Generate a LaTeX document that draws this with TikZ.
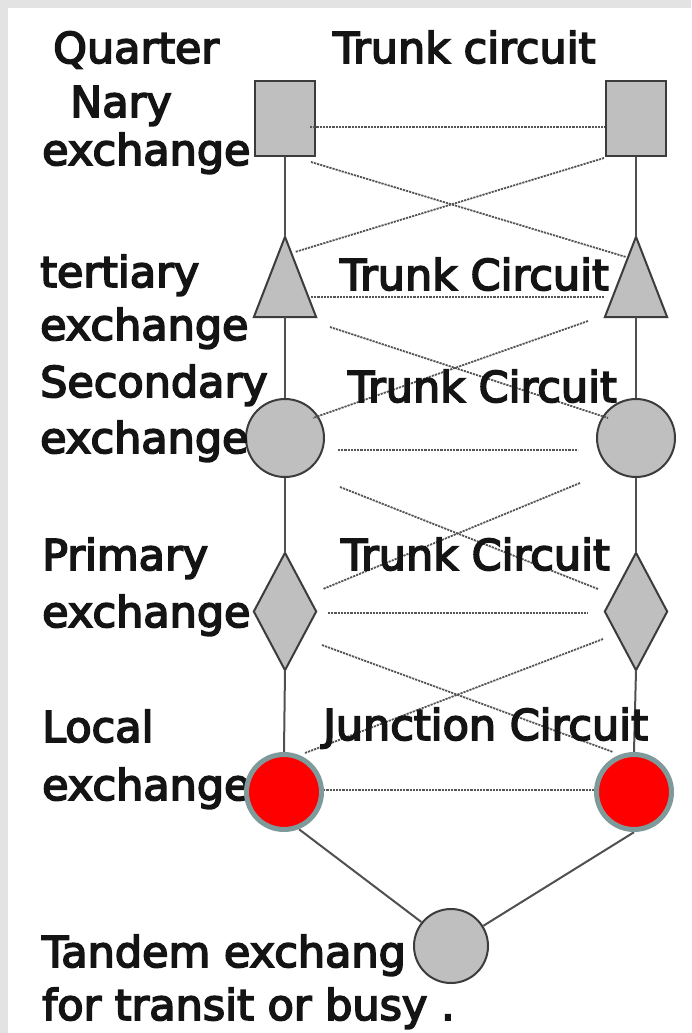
\documentclass[tikz,border=0pt]{standalone}
\usepackage{fontspec}
\setmainfont{DejaVu Sans}
\newfontfamily\lblfont{DejaVu Sans}[FakeStretch=1.01, BoldFont=DejaVu Sans, BoldFeatures={FakeBold=4}]
\usetikzlibrary{shapes.geometric}
\definecolor{shapefill}{HTML}{BFBFBF}
\definecolor{shapeline}{HTML}{3C3C3C}
\definecolor{wireline}{HTML}{505050}
\definecolor{dotline}{HTML}{555555}
\definecolor{ringline}{HTML}{7F9A9A}
\definecolor{outerbg}{HTML}{E3E3E3}
\tikzset{
  box/.style={draw=shapeline, fill=shapefill, line width=2pt, minimum width=60pt, minimum height=75pt, inner sep=0pt},
  frame/.style={minimum width=62pt, inner sep=0pt},
  shp/.style={draw=shapeline, fill=shapefill, line width=2pt, line join=miter},
  gcirc/.style={circle, draw=shapeline, fill=shapefill, line width=2pt, minimum size=78pt, inner sep=0pt},
  wire/.style={draw=wireline, line width=2pt},
  dotw/.style={draw=dotline, line width=1.8pt, dash pattern=on 2.2pt off 1pt},
  lbl/.style={anchor=base west, inner sep=0pt, font=\lblfont\bfseries\fontsize{42.5pt}{50pt}\selectfont, text=black!92}
}
\begin{document}
\begin{tikzpicture}[x=1pt,y=-1pt]
\useasboundingbox (0,0) rectangle (691,1033);
\fill[outerbg] (0,0) rectangle (691,1033);
\fill[white] (8,8) rectangle (691,1033);

% shapes
\node[box] (sqL) at (285,118.5) {};
\node[box] (sqR) at (636,118.5) {};
\node[frame, minimum height=80pt] (triL) at (285,277) {};
\node[frame, minimum height=80pt] (triR) at (636,277) {};
\draw[shp] (triL.north) -- (triL.south east) -- (triL.south west) -- cycle;
\draw[shp] (triR.north) -- (triR.south east) -- (triR.south west) -- cycle;
\node[gcirc] (secL) at (285,438) {};
\node[gcirc] (secR) at (636,438) {};
\node[frame, minimum height=117pt] (priL) at (285,611.5) {};
\node[frame, minimum height=117pt] (priR) at (636,611.5) {};
\draw[shp] (priL.north) -- (priL.east) -- (priL.south) -- (priL.west) -- cycle;
\draw[shp] (priR.north) -- (priR.east) -- (priR.south) -- (priR.west) -- cycle;
\node[circle, minimum size=80pt, inner sep=0pt] (locL) at (284,792) {};
\node[circle, minimum size=80pt, inner sep=0pt] (locR) at (634,792) {};
\node[circle, minimum size=76pt, inner sep=0pt] (tan) at (451,946) {};

% vertical wires
\draw[wire] (sqL.south) -- (triL.north);
\draw[wire] (triL.south) -- (secL.north);
\draw[wire] (secL.south) -- (priL.north);
\draw[wire] (priL.south) -- (locL.north);
\draw[wire] (sqR.south) -- (triR.north);
\draw[wire] (triR.south) -- (secR.north);
\draw[wire] (secR.south) -- (priR.north);
\draw[wire] (priR.south) -- (locR.north);
\draw[wire] (locL.-68) -- (tan.141);
\draw[wire] (locR.-90) -- (tan.32);

% dotted trunk circuits
\coordinate (a1) at (310,127);   \coordinate (b1) at (605,127);
\coordinate (a2) at (311,162);   \coordinate (b2) at (626,257);
\coordinate (a3) at (604,158);   \coordinate (b3) at (295,252);
\coordinate (a4) at (311,297);   \coordinate (b4) at (605,297);
\coordinate (a5) at (330,327);   \coordinate (b5) at (608,418);
\coordinate (a6) at (588,321);   \coordinate (b6) at (313,418);
\coordinate (a7) at (338,450);   \coordinate (b7) at (578,450);
\coordinate (a8) at (340,487);   \coordinate (b8) at (598,589);
\coordinate (a9) at (580,483);   \coordinate (b9) at (323,589);
\coordinate (a10) at (328,613);  \coordinate (b10) at (588,613);
\coordinate (a11) at (322,645);  \coordinate (b11) at (613,752);
\coordinate (a12) at (603,639);  \coordinate (b12) at (305,753);
\coordinate (a13) at (320,790);  \coordinate (b13) at (596,790);
\foreach \i in {1,...,13} { \draw[dotw] (a\i) -- (b\i); }

% labels
\node[lbl] (t1) at (53,63) {Quarter};
\node[lbl] (t2) at (70,117) {Nary};
\node[lbl] (t3) at (42,165) {exchange};
\node[lbl] (t4) at (40,287) {tertiary};
\node[lbl] (t5) at (40,340) {exchange};
\node[lbl] (t6) at (40,397) {Secondary};
\node[lbl] (t7) at (40,453) {exchange};
\node[lbl] (t8) at (42,570) {Primary};
\node[lbl] (t9) at (42,627) {exchange};
\node[lbl] (t10) at (42,742) {Local};
\node[lbl] (t11) at (42,800) {exchange};
\node[lbl] (t12) at (42,967) {Tandem exchang};
\node[lbl] (t13) at (42,1020) {for transit or busy .};
\node[lbl] (c1) at (333,63) {Trunk circuit};
\node[lbl] (c2) at (340,290) {Trunk Circuit};
\node[lbl] (c3) at (348,402) {Trunk Circuit};
\node[lbl] (c4) at (341,570) {Trunk Circuit};
\node[lbl] (c5) at (323,740) {Junction Circuit};

% shapes drawn over text
\draw[ringline, fill=red, line width=5pt] (locL.center) circle (37.5pt);
\draw[ringline, fill=red, line width=5pt] (locR.center) circle (37.5pt);
\draw[shapeline, fill=shapefill, line width=2pt] (tan.center) circle (37pt);
\end{tikzpicture}
\end{document}
